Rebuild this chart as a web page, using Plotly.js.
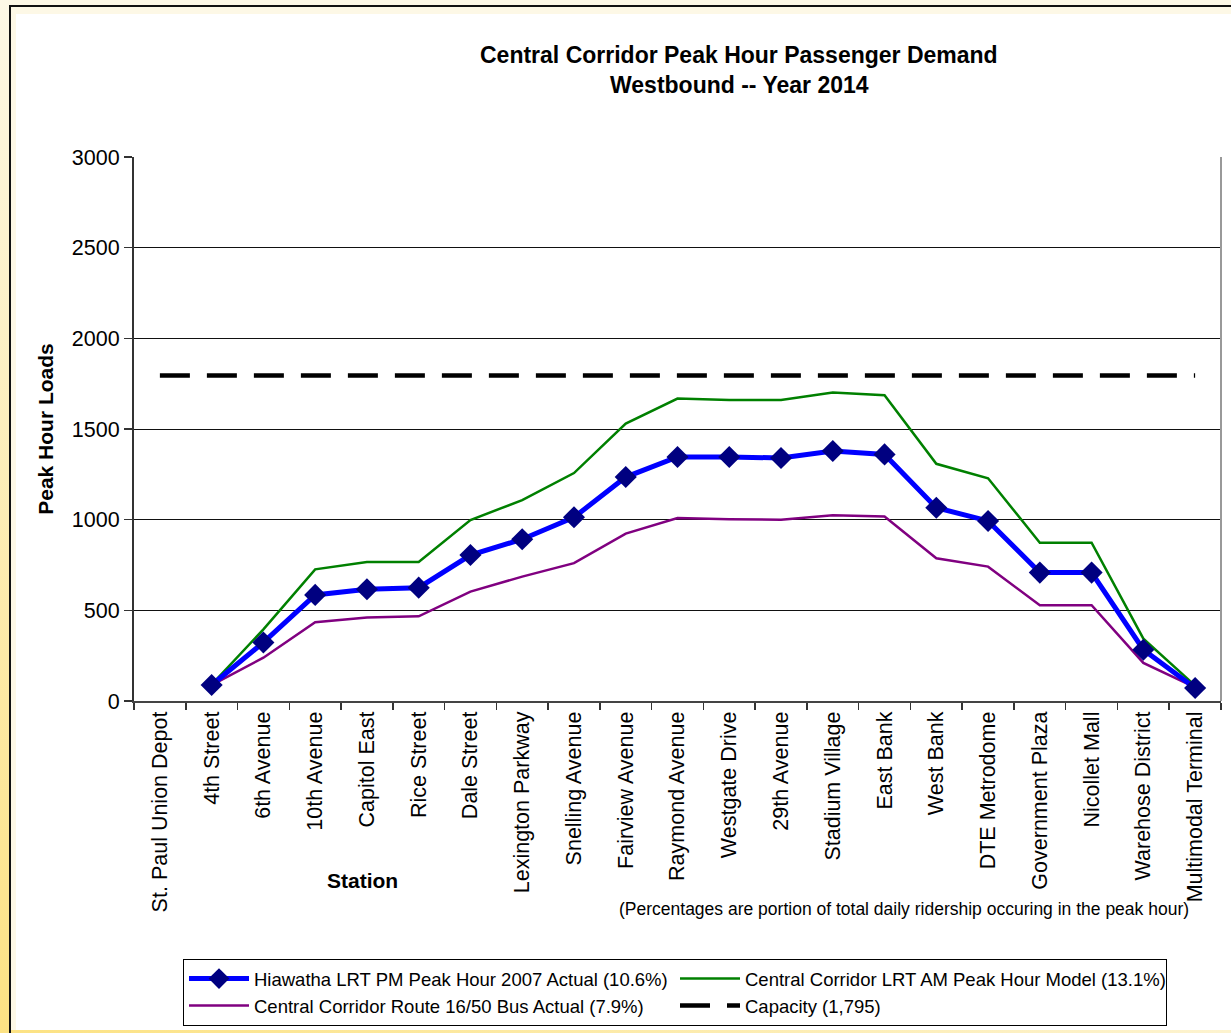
<!DOCTYPE html>
<html>
<head>
<meta charset="utf-8">
<script src="https://cdn.plot.ly/plotly-3.0.1.min.js"></script>
<style>
html,body{margin:0;padding:0;}
body{width:1231px;height:1033px;position:relative;overflow:hidden;background:#FDF8E6;}
#strip{position:absolute;left:0;top:0;width:9px;height:1033px;background:linear-gradient(#FDF8E6,#FCE283);}
#bstrip{position:absolute;left:0;top:1030px;width:1231px;height:3px;background:linear-gradient(90deg,#FCE283,#FDF3CF);}
#vline{position:absolute;left:9px;top:5px;width:2px;height:1028px;background:#111;}
#hline{position:absolute;left:9px;top:5px;width:1222px;height:2px;background:#111;}
#inner{position:absolute;left:16px;top:14px;width:1215px;height:1016px;background:#fff;}
#chart{position:absolute;left:0;top:0;width:1231px;height:1033px;}
</style>
</head>
<body>
<div id="strip"></div>
<div id="bstrip"></div>
<div id="vline"></div>
<div id="hline"></div>
<div id="inner"></div>
<div id="chart"></div>
<script>
const stations = ["St. Paul Union Depot","4th Street","6th Avenue","10th Avenue","Capitol East","Rice Street","Dale Street","Lexington Parkway","Snelling Avenue","Fairview Avenue","Raymond Avenue","Westgate Drive","29th Avenue","Stadium Village","East Bank","West Bank","DTE Metrodome","Government Plaza","Nicollet Mall","Warehose District","Multimodal Terminal"];
const hiawatha = [null,88,323,585,616,625,805,892,1013,1235,1346,1346,1340,1379,1360,1066,993,708,708,283,72];
const ccLrtModel = [null,90,395,726,767,767,998,1108,1257,1530,1668,1660,1660,1701,1686,1308,1228,873,873,344,85];
const busActual = [null,88,239,434,460,467,603,686,760,923,1009,1002,1000,1024,1017,787,741,528,528,210,75];
const capacity = [1795,1795,1795,1795,1795,1795,1795,1795,1795,1795,1795,1795,1795,1795,1795,1795,1795,1795,1795,1795,1795];

const FONT = "Liberation Sans, Arial, sans-serif";

const traces = [
  {x: stations, y: capacity, type:'scatter', mode:'lines', name:'Capacity (1,795)', legendrank:4,
   line:{color:'#000', width:4.5, dash:'30px,17px'}},
  {x: stations, y: busActual, type:'scatter', mode:'lines', name:'Central Corridor Route 16/50 Bus Actual (7.9%)', legendrank:3,
   line:{color:'#800080', width:2.5}},
  {x: stations, y: ccLrtModel, type:'scatter', mode:'lines', name:'Central Corridor LRT AM Peak Hour Model (13.1%)', legendrank:2,
   line:{color:'#008000', width:2.5}},
  {x: stations, y: hiawatha, type:'scatter', mode:'lines+markers', name:'Hiawatha LRT PM Peak Hour 2007 Actual (10.6%)', legendrank:1,
   line:{color:'#0000FF', width:5}, marker:{symbol:'diamond', size:17, color:'#000080', line:{width:0}}}
];

const layout = {
  width:1231, height:1033,
  paper_bgcolor:'rgba(0,0,0,0)', plot_bgcolor:'#fff',
  margin:{l:134, r:10, t:157, b:332, autoexpand:false},
  font:{family:FONT, color:'#000'},
  showlegend:true,
  legend:{orientation:'h', xref:'container', yref:'container', x:183/1231, xanchor:'left', y:1-959/1033, yanchor:'top',
    bgcolor:'#fff', bordercolor:'#000', borderwidth:1, entrywidth:416, entrywidthmode:'pixels',
    font:{size:18.5, family:FONT, color:'#000'}, traceorder:'normal', tracegroupgap:0, itemwidth:60},
  xaxis:{type:'category', tickangle:-90, tickfont:{size:21.5, family:FONT, color:'#000'},
    ticks:'outside', tickson:'boundaries', ticklen:7, tickcolor:'#333', tickwidth:1.5,
    showline:true, linecolor:'#444', linewidth:2, mirror:false, showgrid:false, zeroline:false,
    range:[-0.5, 20.5], fixedrange:true},
  yaxis:{range:[0,3000], dtick:500, tickfont:{size:21.5, family:FONT, color:'#000'},
    ticks:'outside', ticklen:8, tickcolor:'#333', tickwidth:1.5,
    showline:true, linecolor:'#333', linewidth:2, showgrid:true, gridcolor:'#111', gridwidth:1,
    zeroline:false, fixedrange:true,
    title:{text:'<b>Peak Hour Loads</b>', font:{size:21, family:FONT, color:'#000'}, standoff:13}},
  shapes:[
    {type:'line', xref:'paper', yref:'paper', x0:1, x1:1, y0:0, y1:1, line:{color:'#999', width:2}}
  ],
  annotations:[
    {text:'<b>Central Corridor Peak Hour Passenger Demand</b>', xref:'paper', yref:'paper',
     x:(739-134)/1087, y:(701-55)/544, xanchor:'center', yanchor:'middle', showarrow:false,
     font:{size:23, family:FONT, color:'#000'}},
    {text:'<b>Westbound -- Year 2014</b>', xref:'paper', yref:'paper',
     x:(739-134)/1087, y:(701-85)/544, xanchor:'center', yanchor:'middle', showarrow:false,
     font:{size:23, family:FONT, color:'#000'}},
    {text:'<b>Station</b>', xref:'paper', yref:'paper',
     x:(362-134)/1087, y:(701-880)/544, xanchor:'center', yanchor:'middle', showarrow:false,
     font:{size:21, family:FONT, color:'#000'}},
    {text:'(Percentages are portion of total daily ridership occuring in the peak hour)', xref:'paper', yref:'paper',
     x:(1191-134)/1087, y:(701-909)/544, xanchor:'right', yanchor:'middle', showarrow:false,
     font:{size:17.5, family:FONT, color:'#000'}}
  ]
};

Plotly.newPlot('chart', traces, layout, {displayModeBar:false, staticPlot:true});
</script>
</body>
</html>
